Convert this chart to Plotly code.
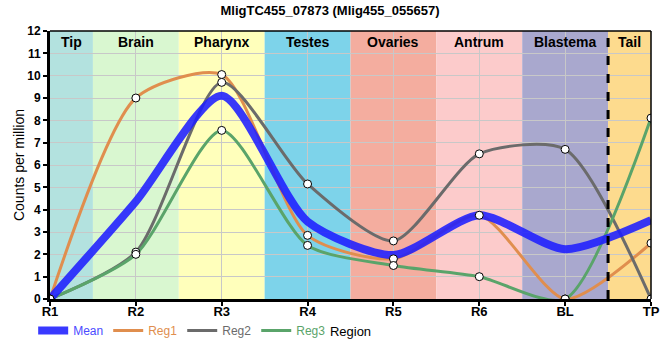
import plotly.graph_objects as go

categories = ["R1", "R2", "R3", "R4", "R5", "R6", "BL", "TP"]
reg1 = [0, 9.0, 10.05, 2.85, 1.8, 3.75, 0, 2.5]
reg2 = [0, 2.1, 9.7, 5.15, 2.6, 6.5, 6.7, 0]
reg3 = [0, 2.0, 7.55, 2.4, 1.5, 1.0, 0, 8.1]
mean = [round((a + b + c) / 3, 3) for a, b, c in zip(reg1, reg2, reg3)]

regions = ["Tip", "Brain", "Pharynx", "Testes", "Ovaries", "Antrum", "Blastema", "Tail"]
region_colors = ["#b3e2df", "#d9f7d0", "#ffffbb", "#7dd3ea", "#f4ad9f", "#fccbcb", "#a9a8ce", "#fddb8e"]

title = "MligTC455_07873 (Mlig455_055657)"

c_mean = "rgba(30,30,255,0.88)"
c_reg1 = "#e08e4e"
c_reg2 = "#6b6b6b"
c_reg3 = "#5aa46a"

FONT = "Liberation Sans, Arial, sans-serif"
SMOOTH = 0.7

fig = go.Figure()

def lbl(name, color):
    return f"<span style='color:{color}'>{name}</span>"

fig.add_trace(go.Scatter(x=categories, y=reg1, mode="lines", name=lbl("Reg1", c_reg1),
                         line=dict(color=c_reg1, width=3, shape="spline", smoothing=SMOOTH),
                         legendrank=2))
fig.add_trace(go.Scatter(x=categories, y=reg2, mode="lines", name=lbl("Reg2", c_reg2),
                         line=dict(color=c_reg2, width=3, shape="spline", smoothing=SMOOTH),
                         legendrank=3))
fig.add_trace(go.Scatter(x=categories, y=reg3, mode="lines", name=lbl("Reg3", c_reg3),
                         line=dict(color=c_reg3, width=3, shape="spline", smoothing=SMOOTH),
                         legendrank=4))
fig.add_trace(go.Scatter(x=categories, y=mean, mode="lines", name=lbl("Mean", "#4b4bff"),
                         line=dict(color=c_mean, width=8, shape="spline", smoothing=SMOOTH),
                         legendrank=1))
for vals in (reg1, reg2, reg3):
    fig.add_trace(go.Scatter(x=categories, y=vals, mode="markers", showlegend=False,
                             marker=dict(size=8, color="white", line=dict(color="black", width=1))))

shapes = []
n = len(categories) - 1
for i, (r, col) in enumerate(zip(regions, region_colors)):
    x0 = max(0, i - 0.5)
    x1 = min(n, i + 0.5)
    shapes.append(dict(type="rect", xref="x", yref="paper", x0=x0, x1=x1, y0=0, y1=1,
                       fillcolor=col, line=dict(width=0), layer="between"))
shapes.append(dict(type="line", xref="x", yref="paper", x0=n - 0.5, x1=n - 0.5, y0=0, y1=1,
                   line=dict(color="black", width=3, dash="dash")))
shapes.append(dict(type="line", xref="paper", yref="paper", x0=0, x1=1, y0=1, y1=1,
                   line=dict(color="black", width=1.5)))
shapes.append(dict(type="line", xref="paper", yref="paper", x0=1, x1=1, y0=0, y1=1,
                   line=dict(color="black", width=1.5)))

annotations = []
for i, r in enumerate(regions):
    x0 = max(0, i - 0.5)
    x1 = min(n, i + 0.5)
    annotations.append(dict(x=(x0 + x1) / 2, xref="x", y=1, yref="paper", yanchor="top",
                            yshift=-1, text=f"<b>{r}</b>", showarrow=False,
                            font=dict(family=FONT, size=14, color="black")))

fig.update_layout(
    width=660, height=360,
    margin=dict(l=50, r=9, t=31, b=61, autoexpand=False),
    paper_bgcolor="white", plot_bgcolor="white",
    title=dict(text=f"<b>{title}</b>", x=0.5, xanchor="center", y=0.985, yanchor="top",
               font=dict(family=FONT, size=13, color="black"), automargin=False),
    font=dict(family=FONT, size=13, color="black"),
    shapes=shapes, annotations=annotations,
    showlegend=True,
    legend=dict(orientation="h", x=-0.028, xanchor="left", y=-0.118, yanchor="middle",
                font=dict(family=FONT, size=12), bgcolor="rgba(0,0,0,0)",
                itemwidth=30, tracegroupgap=0),
    xaxis=dict(range=[0, n], showgrid=True, gridcolor="#c8c8c8", gridwidth=1,
               showline=True, linecolor="black", linewidth=3, automargin=False,
               ticks="outside", ticklen=4, tickwidth=2, tickcolor="black",
               ticklabelstandoff=-6,
               tickfont=dict(family=FONT, size=13, color="black", weight="bold"),
               title=dict(text="Region", font=dict(family=FONT, size=13), standoff=10),
               zeroline=False),
    yaxis=dict(range=[0, 12], dtick=1, showgrid=True, gridcolor="#c8c8c8", gridwidth=1,
               showline=True, linecolor="black", linewidth=3, automargin=False,
               ticks="outside", ticklen=4, tickwidth=1.5, tickcolor="black",
               tickfont=dict(family=FONT, size=12, color="black", weight="bold"),
               title=dict(text="Counts per million", font=dict(family=FONT, size=14), standoff=0),
               zeroline=False),
)

fig.write_html("out.html", config={"displayModeBar": False},
               post_script="document.body.style.margin='0';")
